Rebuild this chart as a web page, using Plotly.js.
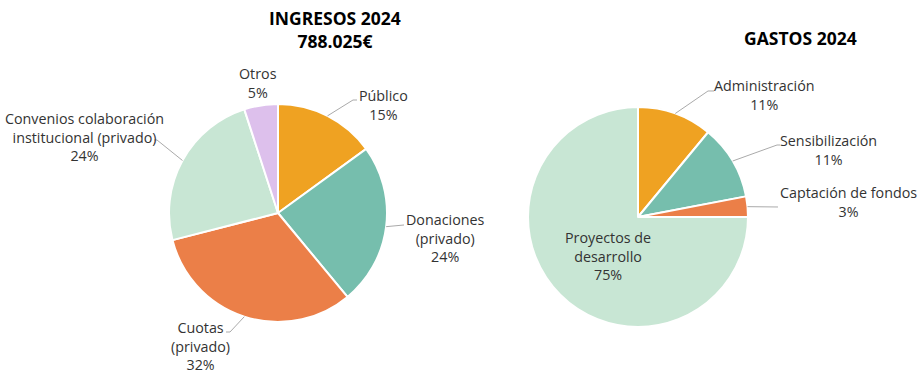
<!DOCTYPE html>
<html><head><meta charset="utf-8">
<script src="https://cdn.plot.ly/plotly-3.0.1.min.js"></script>
<style>html,body{margin:0;padding:0;background:#fff}</style>
</head><body><div id="chart" style="width:924px;height:376px"></div>
<script>
const W = 924, H = 376;
// Ingresos
const incomeLabels = ['Público', 'Donaciones (privado)', 'Cuotas (privado)', 'Convenios colaboración institucional (privado)', 'Otros'];
const incomeText = ['Público<br>15%', 'Donaciones<br>(privado)<br>24%', 'Cuotas<br>(privado)<br>32%', 'Convenios colaboración<br>institucional (privado)<br>24%', 'Otros<br>5%'];
const incomeValues = [15, 24, 32, 24, 5];
const incomeColors = ['#EFA222', '#76BEAD', '#EB7F48', '#C8E6D4', '#DDC0EC'];
// Gastos
const expenseLabels = ['Administración', 'Sensibilización', 'Captación de fondos', 'Proyectos de desarrollo'];
const expenseText = ['Administración<br>11%', 'Sensibilización<br>11%', 'Captación de fondos<br>3%', 'Proyectos de<br>desarrollo<br>75%'];
const expenseValues = [11, 11, 3, 75];
const expenseColors = ['#EFA222', '#76BEAD', '#EB7F48', '#C8E6D4'];

const FONT = '"Open Sans", sans-serif';
// pie geometry (pixels)
const pies = [
  {cx: 278, cy: 213, r: 109, values: incomeValues},
  {cx: 638, cy: 217, r: 110, values: expenseValues}
];
function dom(p){
  return {x: [(p.cx - p.r)/W, (p.cx + p.r)/W], y: [(H - (p.cy + p.r))/H, (H - (p.cy - p.r))/H]};
}
const labelSpec = [
  {pie:0, i:0, tx:383, ty:105, path:[[353,100],[357,100]]},
  {pie:0, i:1, tx:445, ty:238, path:[[404,225]]},
  {pie:0, i:2, tx:200, ty:346, path:[[230,332],[226,332]]},
  {pie:0, i:3, tx:84, ty:137, path:[[157,140],[154,140]]},
  {pie:0, i:4, tx:258, ty:83, path:null},
  {pie:1, i:0, tx:764, ty:95, path:[[708,91],[714,91]]},
  {pie:1, i:1, tx:828, ty:150, path:[[777,145],[780,145]]},
  {pie:1, i:2, tx:848, ty:202, path:[[778,207]]},
  {pie:1, i:3, tx:608, ty:256, path:null}
];
const texts = [incomeText, expenseText];
function midPoint(p, i){
  const tot = p.values.reduce((a,b)=>a+b,0);
  let cum = 0; for(let k=0;k<i;k++) cum += p.values[k];
  const a = (cum + p.values[i]/2)/tot*2*Math.PI;
  return [p.cx + p.r*Math.sin(a), p.cy - p.r*Math.cos(a)];
}
const annotations = [];
const shapes = [];
labelSpec.forEach(s => {
  const p = pies[s.pie];
  annotations.push({xref:'paper', yref:'paper', x: s.tx/W, y: 1 - s.ty/H, xanchor:'center', yanchor:'middle',
    text: texts[s.pie][s.i], showarrow:false, align:'center',
    font:{family:FONT, size:14.3, color:'#333333'}});
  if (s.path){
    const pts = [midPoint(p, s.i)].concat(s.path);
    let d = 'M' + pts.map(q => (q[0]/W).toFixed(5) + ',' + (1 - q[1]/H).toFixed(5)).join(' L');
    shapes.push({type:'path', xref:'paper', yref:'paper', path:d, line:{color:'#AAAAAA', width:1}});
  }
});
annotations.push({xref:'paper', yref:'paper', x:335/W, y:1-30/H, xanchor:'center', yanchor:'middle',
  text:'<b>INGRESOS 2024<br>788.025€</b>', showarrow:false, font:{family:FONT, size:17.5, color:'#000'}});
annotations.push({xref:'paper', yref:'paper', x:800/W, y:1-38/H, xanchor:'center', yanchor:'middle',
  text:'<b>GASTOS 2024</b>', showarrow:false, font:{family:FONT, size:17.5, color:'#000'}});

const data = [
  {type:'pie', labels: incomeLabels, values: incomeValues, sort:false, direction:'clockwise', rotation:0,
   marker:{colors: incomeColors, line:{color:'#fff', width:2}}, textinfo:'none', hoverinfo:'label+percent',
   domain: dom(pies[0]), showlegend:false},
  {type:'pie', labels: expenseLabels, values: expenseValues, sort:false, direction:'clockwise', rotation:0,
   marker:{colors: expenseColors, line:{color:'#fff', width:2}}, textinfo:'none', hoverinfo:'label+percent',
   domain: dom(pies[1]), showlegend:false}
];
const layout = {width:W, height:H, margin:{l:0,r:0,t:0,b:0}, paper_bgcolor:'#fff', plot_bgcolor:'#fff',
  showlegend:false, annotations: annotations, shapes: shapes, font:{family:FONT}};
Plotly.newPlot('chart', data, layout, {displayModeBar:false, staticPlot:true});
</script></body></html>
